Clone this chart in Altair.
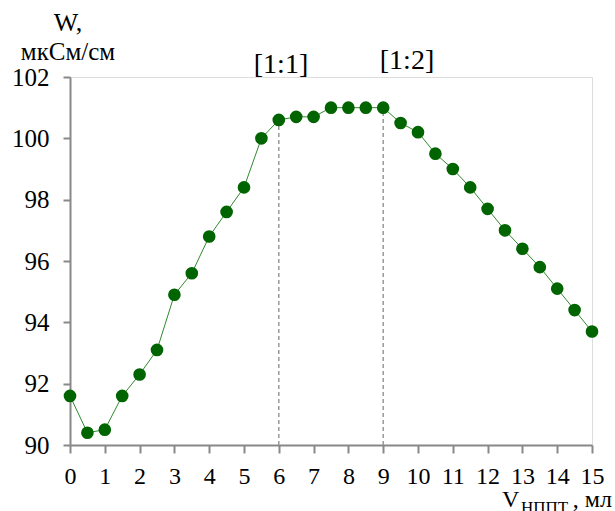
import altair as alt
import pandas as pd

volume = [0, 0.5, 1, 1.5, 2, 2.5, 3, 3.5, 4, 4.5, 5, 5.5, 6, 6.5, 7, 7.5,
          8, 8.5, 9, 9.5, 10, 10.5, 11, 11.5, 12, 12.5, 13, 13.5, 14, 14.5, 15]
conductivity = [91.6, 90.4, 90.5, 91.6, 92.3, 93.1, 94.9, 95.6, 96.8, 97.6,
                98.4, 100.0, 100.6, 100.7, 100.7, 101.0, 101.0, 101.0, 101.0,
                100.5, 100.2, 99.5, 99.0, 98.4, 97.7, 97.0, 96.4, 95.8, 95.1,
                94.4, 93.7]
marker_x = [6, 9]
marker_labels = ["[1:1]", "[1:2]"]
x_ticks = list(range(0, 16))
y_ticks = [90, 92, 94, 96, 98, 100, 102]

df = pd.DataFrame({"v": volume, "w": conductivity})
lookup = dict(zip(volume, conductivity))
rules_df = pd.DataFrame({"v": marker_x, "w0": [90] * len(marker_x),
                         "w1": [lookup[m] for m in marker_x]})

FONT = "Liberation Serif"

xscale = alt.Scale(domain=[0, 15], nice=False, zero=False)
yscale = alt.Scale(domain=[90, 102], nice=False, zero=False)

def xaxis():
    return alt.Axis(values=x_ticks, title=None, grid=False, labelFont=FONT,
                    labelFontSize=24, labelColor="black", domainColor="#888888",
                    tickColor="#888888", domainWidth=2, tickWidth=2, tickSize=8,
                    labelPadding=11, labelFlush=False, labelOverlap=False)

def yaxis():
    return alt.Axis(values=y_ticks, title=None, grid=False, labelFont=FONT,
                    labelFontSize=25, labelColor="black", domainColor="#888888",
                    tickColor="#888888", domainWidth=2, tickWidth=2, tickSize=7,
                    labelPadding=14, labelFlush=False, labelOverlap=False)

base = alt.Chart(df)

line = base.mark_line(color="#2f8a2f", strokeWidth=1).encode(
    x=alt.X("v:Q", scale=xscale, axis=xaxis()),
    y=alt.Y("w:Q", scale=yscale, axis=yaxis()),
)

points = base.mark_circle(color="#006400", opacity=1, size=160).encode(
    x=alt.X("v:Q", scale=xscale, axis=xaxis()),
    y=alt.Y("w:Q", scale=yscale, axis=yaxis()),
)

rules = alt.Chart(rules_df).mark_rule(color="#999999", strokeWidth=1.5,
                                      strokeDash=[4, 3]).encode(
    x=alt.X("v:Q", scale=xscale, axis=xaxis()),
    y=alt.Y("w0:Q", scale=yscale, axis=yaxis()),
    y2="w1:Q",
)

def txt(s, x, y, size=24, align="center"):
    return alt.Chart(pd.DataFrame({"t": [s]})).mark_text(
        font=FONT, fontSize=size, color="black", align=align,
        baseline="alphabetic").encode(
        text="t:N", x=alt.value(x), y=alt.value(y))

annotations = [
    txt(marker_labels[0], 211, -4, 28),
    txt(marker_labels[1], 337, -8, 28),
    txt("W,", -2, -46, 26),
    txt("мкСм/см", -2, -17, 25),
    txt("V", 432, 430, 24, "left"),
    txt("НППТ", 451, 436, 17, "left"),
    txt(", мл", 542, 430, 24, "right"),
]

chart = alt.layer(rules, line, points, *annotations).properties(
    width=522, height=368,
    autosize=alt.AutoSizeParams(type="none"),
    padding={"left": 70, "top": 77, "right": 23, "bottom": 66},
).configure_view(stroke=None).configure(background="white", font=FONT)

chart.save("out.html", embed_options={"renderer": "svg", "actions": False})
